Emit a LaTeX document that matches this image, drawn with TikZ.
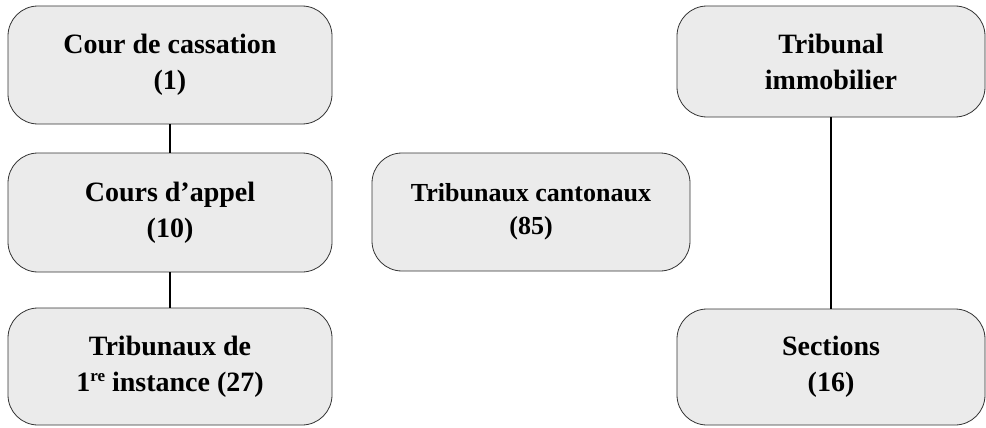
\documentclass[tikz,border=0pt]{standalone}
\usepackage{fontspec}
\setmainfont{Liberation Serif}
\begin{document}
\begin{tikzpicture}[x=1pt,y=-1pt,
  box/.style={draw=black!80, line width=0.8pt, fill=black!8, rounded corners=30pt,
    align=center, inner sep=0pt, font=\fontsize{28}{36}\selectfont\bfseries},
  link/.style={draw=black, line width=1.6pt}]
\useasboundingbox (0,0) rectangle (986,428);
\node[box, minimum width=324pt, minimum height=118pt] (cass) at (170,65) {Cour de cassation\\(1)};
\node[box, minimum width=324pt, minimum height=119pt] (appel) at (170,212.5) {Cours d’appel\\(10)};
\node[box, minimum width=324pt, minimum height=117pt] (inst) at (170,366.5) {Tribunaux de\\1{\fontsize{17}{17}\selectfont\raisebox{0.55em}{re}} instance (27)};
\node[box, minimum width=318pt, minimum height=118pt, font=\fontsize{26}{33}\selectfont\bfseries] (cant) at (531,212) {Tribunaux cantonaux\\(85)};
\node[box, minimum width=308pt, minimum height=111pt] (immo) at (831,61.5) {Tribunal\\immobilier};
\node[box, minimum width=308pt, minimum height=116pt] (sect) at (831,367) {Sections\\(16)};
\draw[link] (cass) -- (appel);
\draw[link] (appel) -- (inst);
\draw[link] (immo) -- (sect);
\end{tikzpicture}
\end{document}
